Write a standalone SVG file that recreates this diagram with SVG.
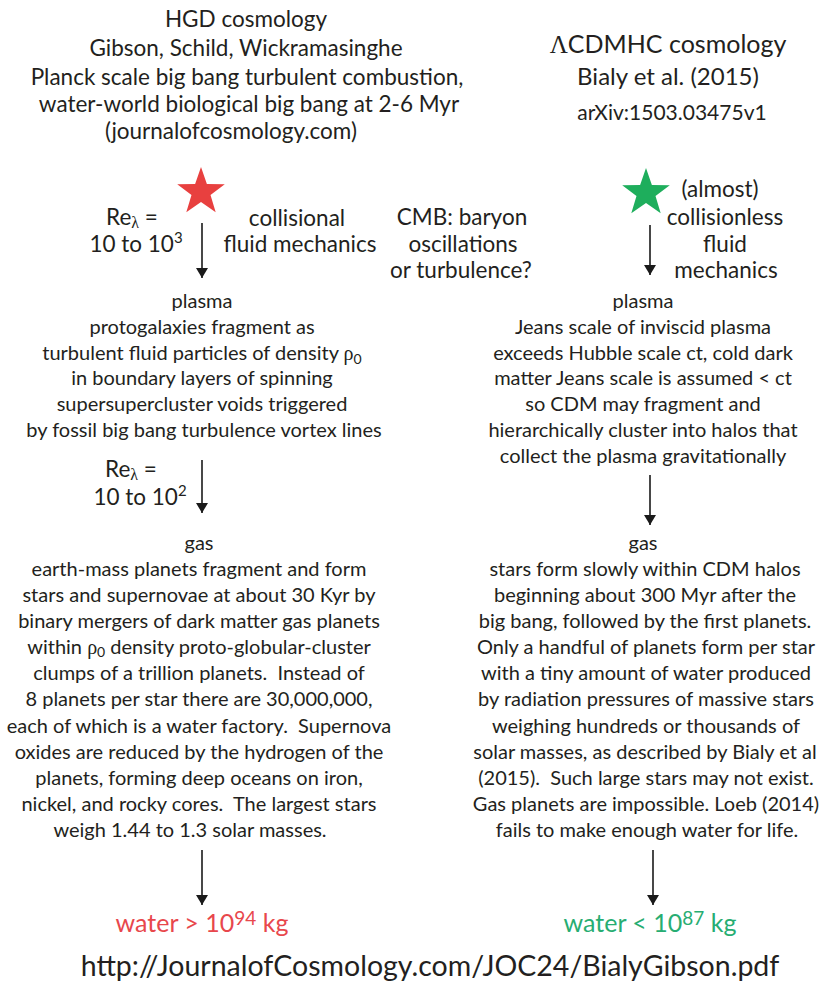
<svg xmlns="http://www.w3.org/2000/svg" xmlns:xlink="http://www.w3.org/1999/xlink" width="823" height="981" viewBox="0 0 823 981">
<style>
text{font-family:Lato,"Liberation Sans",sans-serif;text-anchor:middle;fill:#231f20}
.hd{font-size:22.5px}
.bd{font-size:20px}
.lb{font-size:22.5px}
.red{fill:#e8474c}
.grn{fill:#27ad72}
.cyn{fill:#3fbdd8}
.sym{font-family:"Liberation Serif","DejaVu Serif",serif}
.sub{font-size:14px}
.pre{white-space:pre}
.conn line{stroke:#1a1a1a;stroke-width:1.6}
</style>
<defs>
<marker id="ah" viewBox="0 0 10 12" refX="10" refY="6" markerWidth="10" markerHeight="12" markerUnits="userSpaceOnUse" orient="auto">
<path d="M0,0 L10,6 L0,12 Z" fill="#1a1a1a"/>
</marker>
<polygon id="star" points="0,-25 5.88,-8.09 23.78,-7.73 9.51,3.09 14.69,20.23 0,10 -14.69,20.23 -9.51,3.09 -23.78,-7.73 -5.88,-8.09"/>
</defs>
<rect width="823" height="981" fill="#ffffff"/>

<g id="header-hgd" class="hd">
<text x="246" y="27">HGD cosmology</text>
<text x="246" y="56">Gibson, Schild, Wickramasinghe</text>
<text x="247" y="85">Planck scale big bang turbulent combustion,</text>
<text x="249" y="112">water-world biological big bang at 2-6 Myr</text>
<text x="231" y="139">(journalofcosmology.com)</text>
</g>

<g id="header-lcdm">
<text x="668" y="53" style="font-size:25px"><tspan class="sym">Λ</tspan>CDMHC cosmology</text>
<text x="668" y="85" style="font-size:24px">Bialy et al. (2015)</text>
<text x="672" y="120" style="font-size:21px">arXiv:1503.03475v1</text>
</g>

<g id="star-hgd"><use xlink:href="#star" href="#star" x="201" y="192" fill="#e8403f"/></g>
<g id="star-lcdm"><use xlink:href="#star" href="#star" x="646" y="193" fill="#1eae5c"/></g>

<g id="label-re1" class="lb red">
<text x="132" y="225">Re<tspan dy="3" style="font-size:16px" class="sym">λ</tspan><tspan dy="-3"> =</tspan></text>
<text x="136" y="252">10 to 10<tspan dy="-9" style="font-size:15px">3</tspan></text>
</g>
<g id="label-collisional" class="lb red">
<text x="297" y="226">collisional</text>
<text x="300" y="252">fluid mechanics</text>
</g>
<g id="label-cmb" class="lb cyn">
<text x="462" y="225">CMB: baryon</text>
<text x="463" y="252">oscillations</text>
<text x="461" y="278">or turbulence?</text>
</g>
<g id="label-collisionless" class="lb grn">
<text x="720" y="197">(almost)</text>
<text x="725" y="225">collisionless</text>
<text x="725" y="252">fluid</text>
<text x="726" y="278">mechanics</text>
</g>

<g id="plasma-hgd" class="bd">
<text x="202" y="308">plasma</text>
<text x="202" y="334">protogalaxies fragment as</text>
<text x="202" y="360">turbulent fluid particles of density <tspan class="sym">ρ</tspan><tspan dy="4" class="sub">0</tspan></text>
<text x="202" y="385">in boundary layers of spinning</text>
<text x="202" y="411">supersupercluster voids triggered</text>
<text x="204" y="437">by fossil big bang turbulence vortex lines</text>
</g>
<g id="plasma-lcdm" class="bd">
<text x="643" y="308">plasma</text>
<text x="643" y="334">Jeans scale of inviscid plasma</text>
<text x="643" y="360">exceeds Hubble scale ct, cold dark</text>
<text x="643" y="385">matter Jeans scale is assumed &lt; ct</text>
<text x="643" y="411">so CDM may fragment and</text>
<text x="643" y="437">hierarchically cluster into halos that</text>
<text x="643" y="463">collect the plasma gravitationally</text>
</g>

<g id="label-re2" class="lb red">
<text x="131" y="477">Re<tspan dy="3" style="font-size:16px" class="sym">λ</tspan><tspan dy="-3"> =</tspan></text>
<text x="140" y="505">10 to 10<tspan dy="-9" style="font-size:15px">2</tspan></text>
</g>

<g id="gas-hgd" class="bd">
<text x="199" y="550">gas</text>
<text x="199" y="576">earth-mass planets fragment and form</text>
<text x="199" y="602">stars and supernovae at about 30 Kyr by</text>
<text x="199" y="628">binary mergers of dark matter gas planets</text>
<text x="199" y="654">within <tspan class="sym">ρ</tspan><tspan dy="3" class="sub">0</tspan><tspan dy="-3"> density proto-globular-cluster</tspan></text>
<text x="199" y="680" class="pre">clumps of a trillion planets.  Instead of</text>
<text x="199" y="706">8 planets per star there are 30,000,000,</text>
<text x="199" y="733" class="pre">each of which is a water factory.  Supernova</text>
<text x="199" y="759">oxides are reduced by the hydrogen of the</text>
<text x="199" y="785">planets, forming deep oceans on iron,</text>
<text x="199" y="811" class="pre">nickel, and rocky cores.  The largest stars</text>
<text x="190" y="837">weigh 1.44 to 1.3 solar masses.</text>
</g>
<g id="gas-lcdm" class="bd">
<text x="643" y="550">gas</text>
<text x="645" y="576">stars form slowly within CDM halos</text>
<text x="645" y="602">beginning about 300 Myr after the</text>
<text x="645" y="628">big bang, followed by the first planets.</text>
<text x="646" y="654">Only a handful of planets form per star</text>
<text x="646" y="680">with a tiny amount of water produced</text>
<text x="646" y="706">by radiation pressures of massive stars</text>
<text x="646" y="733">weighing hundreds or thousands of</text>
<text x="645" y="759">solar masses, as described by Bialy et al</text>
<text x="646" y="785" class="pre">(2015).  Such large stars may not exist.</text>
<text x="646" y="811">Gas planets are impossible. Loeb (2014)</text>
<text x="647" y="837">fails to make enough water for life.</text>
</g>

<g id="water-hgd"><text x="202" y="932" style="font-size:25px" class="red">water &gt; 10<tspan dy="-7" style="font-size:19px">94</tspan><tspan dy="7"> kg</tspan></text></g>
<g id="water-lcdm"><text x="650" y="932" style="font-size:25px" class="grn">water &lt; 10<tspan dy="-7" style="font-size:19px">87</tspan><tspan dy="7"> kg</tspan></text></g>

<g id="url"><text x="430" y="976" style="font-size:28.5px">http://JournalofCosmology.com/JOC24/BialyGibson.pdf</text></g>

<g id="connectors" class="conn">
<line x1="202" y1="223" x2="202" y2="278" marker-end="url(#ah)"/>
<line x1="650" y1="225" x2="650" y2="275" marker-end="url(#ah)"/>
<line x1="202" y1="460" x2="202" y2="513" marker-end="url(#ah)"/>
<line x1="650" y1="475" x2="650" y2="525" marker-end="url(#ah)"/>
<line x1="202" y1="850" x2="202" y2="905" marker-end="url(#ah)"/>
<line x1="653" y1="850" x2="653" y2="905" marker-end="url(#ah)"/>
</g>
</svg>
